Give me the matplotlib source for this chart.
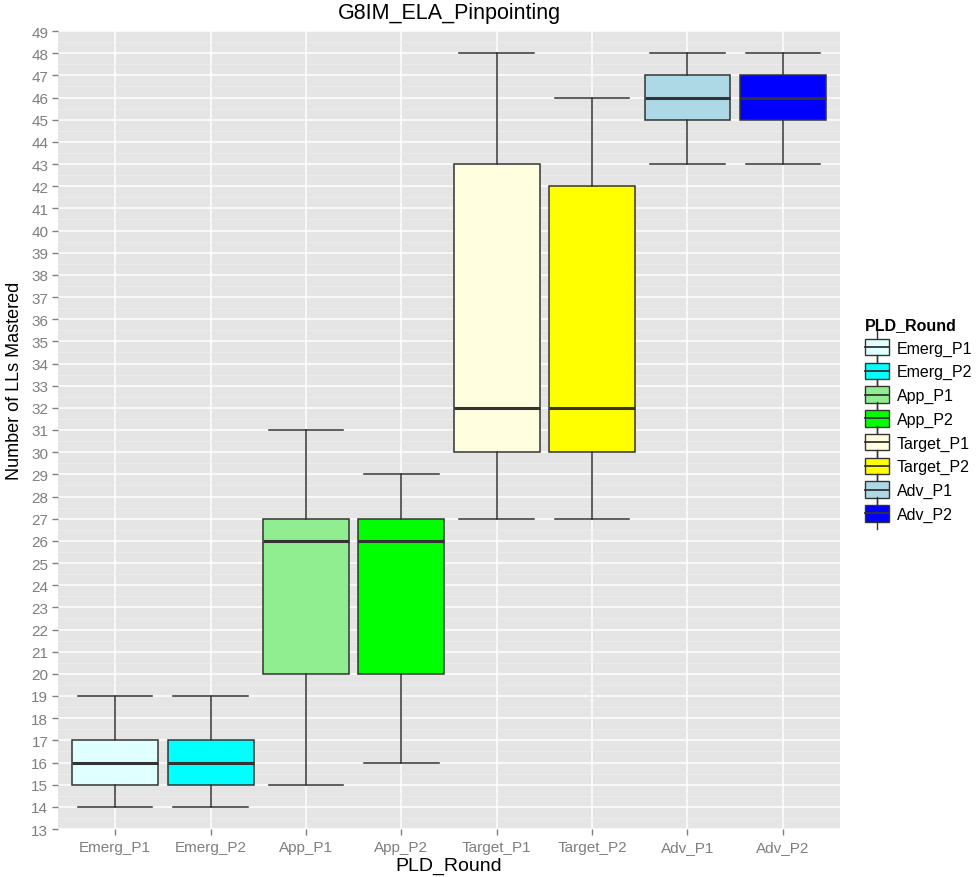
import numpy as np
import matplotlib.pyplot as plt
from matplotlib.legend_handler import HandlerBase
from matplotlib.patches import Rectangle
from matplotlib.lines import Line2D

plt.rcParams['font.family'] = ['Liberation Sans', 'DejaVu Sans']

# boxplot summary
categories = ['Emerg_P1', 'Emerg_P2', 'App_P1', 'App_P2',
              'Target_P1', 'Target_P2', 'Adv_P1', 'Adv_P2']
whisker_low = [14, 14, 15, 16, 27, 27, 43, 43]
q1 = [15, 15, 20, 20, 30, 30, 45, 45]
median = [16, 16, 26, 26, 32, 32, 46, 46]
q3 = [17, 17, 27, 27, 43, 42, 47, 47]
whisker_high = [19, 19, 31, 29, 48, 46, 48, 48]
fill_colors = ['#E0FFFF', '#00FFFF', '#90EE90', '#00FF00',
               '#FFFFE0', '#FFFF00', '#ADD8E6', '#0000FF']
y_ticks = list(range(13, 50))

edge = '#333333'


class BoxHandler(HandlerBase):
    # small boxplot glyph like ggplot's legend key
    def create_artists(self, legend, orig_handle, xdescent, ydescent,
                       width, height, fontsize, trans):
        fc = orig_handle.get_facecolor()
        x0 = -xdescent
        ymid = -ydescent + height / 2
        cx = x0 + width / 2
        wl = Line2D([cx, cx], [ymid - 11.5, ymid + 11.5],
                    color=edge, lw=1, transform=trans)
        box = Rectangle((x0, ymid - 6), width, 12,
                        facecolor=fc, edgecolor=edge, lw=1, transform=trans)
        med = Line2D([x0, x0 + width], [ymid, ymid],
                     color=edge, lw=1.3, transform=trans)
        return [wl, box, med]


fig = plt.figure(figsize=(9.79, 8.78), dpi=100)
ax = fig.add_axes([58 / 979, 48 / 878, 782 / 979, 798 / 878])
ax.set_facecolor('#E5E5E5')

stats = []
for i, name in enumerate(categories):
    stats.append({'label': name, 'whislo': whisker_low[i], 'q1': q1[i],
                  'med': median[i], 'q3': q3[i], 'whishi': whisker_high[i],
                  'fliers': []})

pos = np.arange(1, len(categories) + 1)
bp = ax.bxp(stats, positions=pos, widths=0.9, capwidths=0.78, patch_artist=True,
            boxprops=dict(edgecolor=edge, linewidth=1.1),
            whiskerprops=dict(color=edge, linewidth=1.1),
            capprops=dict(color=edge, linewidth=1.1),
            medianprops=dict(color=edge, linewidth=2.2), zorder=3)
for patch, c in zip(bp['boxes'], fill_colors):
    patch.set_facecolor(c)

ax.set_xlim(0.4, len(categories) + 0.6)
ax.set_ylim(13, 49)
ax.set_yticks(y_ticks)
ax.set_yticks(np.arange(13.5, 49, 1), minor=True)
ax.set_xticks(pos)
ax.set_xticklabels(categories)
ax.grid(True, which='major', color='white', lw=1.1, zorder=0)
ax.grid(True, which='minor', axis='y', color='#F0F0F0', lw=0.5, zorder=0)
ax.set_axisbelow(True)
for s in ax.spines.values():
    s.set_visible(False)
ax.tick_params(axis='both', which='major', colors='#7F7F7F', labelsize=11,
               length=4, width=1)
ax.tick_params(axis='y', which='minor', length=0)
ax.tick_params(axis='y', pad=3)
ax.tick_params(axis='x', pad=4)

fig.text((58 + 840) / 2 / 979, 1 - 14 / 878, 'G8IM_ELA_Pinpointing',
         ha='center', va='center', fontsize=15.5)
fig.text((58 + 840) / 2 / 979, 1 - 866 / 878, 'PLD_Round',
         ha='center', va='center', fontsize=14)
fig.text(15 / 979, 1 - 381 / 878, 'Number of LLs Mastered',
         ha='center', va='center', rotation=90, fontsize=13)

handles = [Rectangle((0, 0), 1, 1, facecolor=c) for c in fill_colors]
leg = fig.legend(handles, categories, title='PLD_Round',
                 handler_map={Rectangle: BoxHandler()},
                 loc='upper left', bbox_to_anchor=(865 / 979, 1 - 318 / 878),
                 frameon=False, fontsize=11.5, title_fontsize=11.5,
                 borderpad=0, borderaxespad=0,
                 handlelength=1.5, handleheight=1.0, labelspacing=0.5,
                 handletextpad=0.5, alignment='left')
leg.get_title().set_fontweight('bold')

fig.savefig('out.png', dpi=100)
